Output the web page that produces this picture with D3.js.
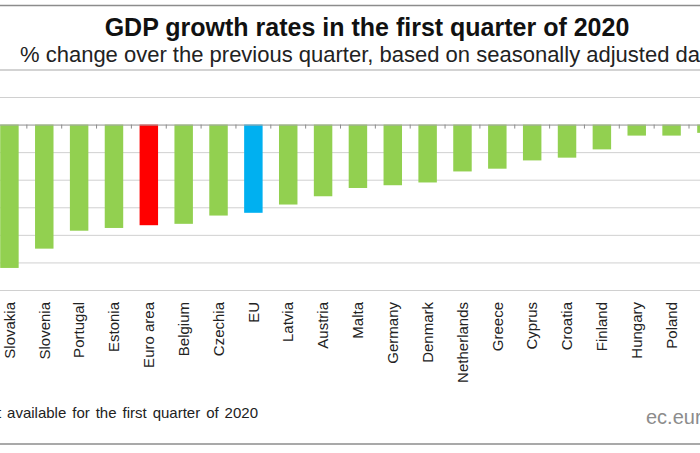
<!DOCTYPE html>
<html>
<head>
<meta charset="utf-8">
<script src="https://cdn.jsdelivr.net/npm/d3@7"></script>
<style>
  html, body { margin: 0; padding: 0; background: #fff; overflow: hidden; }
  svg { display: block; }
  text { font-family: "Liberation Sans", Arial, sans-serif; }
</style>
</head>
<body>
<svg id="chart"></svg>
<script>
// values, % change over the previous quarter
const countries = ["Slovakia", "Slovenia", "Portugal", "Estonia", "Euro area", "Belgium", "Czechia", "EU",
  "Latvia", "Austria", "Malta", "Germany", "Denmark", "Netherlands", "Greece", "Cyprus", "Croatia",
  "Finland", "Hungary", "Poland", "Lithuania"];
const growth = [-5.2, -4.5, -3.85, -3.75, -3.65, -3.6, -3.3, -3.2, -2.9, -2.6, -2.3, -2.2, -2.1, -1.7, -1.6,
  -1.3, -1.2, -0.9, -0.4, -0.4, -0.3];
const yTicks = [1, 0, -1, -2, -3, -4, -5, -6];

const svgWidth = 700, svgHeight = 453;
const green = "#92d050", euroRed = "#ff0000", euBlue = "#00b0f0";

const svg = d3.select("#chart")
    .attr("width", svgWidth)
    .attr("height", svgHeight);

// the source image is cropped, so the band range runs past the frame on the right
const x = d3.scaleBand()
    .domain(countries)
    .range([-8, -8 + countries.length * 34.85])
    .paddingInner(0.47)
    .paddingOuter(0.235);

const y = d3.scaleLinear()
    .domain([-6, 1])
    .range([290, 97]);

// frame rules
svg.selectAll("line.rule")
    .data([[5.5, "#8c8c8c", 1.5], [70, "#c4c4c4", 1.5], [444, "#8c8c8c", 1.5]])
  .enter().append("line")
    .attr("class", "rule")
    .attr("x1", 0)
    .attr("x2", svgWidth)
    .attr("y1", d => d[0])
    .attr("y2", d => d[0])
    .attr("stroke", d => d[1])
    .attr("stroke-width", d => d[2]);

// gridlines
const grid = svg.append("g")
    .call(d3.axisRight(y).tickValues(yTicks).tickSize(svgWidth).tickFormat(""));
grid.select(".domain").remove();
grid.selectAll("line").attr("stroke", "#d0d0d0").attr("stroke-width", 1);

// bars
svg.selectAll("rect.bar")
    .data(countries)
  .enter().append("rect")
    .attr("class", "bar")
    .attr("x", d => x(d))
    .attr("width", x.bandwidth())
    .attr("y", y(0))
    .attr("height", (d, i) => y(growth[i]) - y(0))
    .attr("fill", d => d === "Euro area" ? euroRed : d === "EU" ? euBlue : green);

// zero line with ticks between the bars
const xAxis = svg.append("g")
    .attr("transform", "translate(0," + y(0) + ")")
    .call(d3.axisBottom(x).tickSize(0));
xAxis.select(".domain").attr("stroke", "#a6a6a6").attr("stroke-width", 1);
xAxis.selectAll(".tick").append("line")
    .attr("x1", x.step() / 2)
    .attr("x2", x.step() / 2)
    .attr("y2", 4)
    .attr("stroke", "#8c8c8c");
xAxis.selectAll("text")
    .attr("transform", "translate(0," + (302 - y(0)) + ") rotate(-90)")
    .attr("x", 0)
    .attr("y", 0)
    .attr("dy", "0.35em")
    .attr("text-anchor", "end")
    .attr("font-size", 15)
    .attr("fill", "#222")
    .style("font-family", '"Liberation Sans", Arial, sans-serif');
// last label falls outside the crop
xAxis.selectAll("text").filter(d => d === "Lithuania").remove();

// titles
svg.append("text")
    .attr("x", 367)
    .attr("y", 36)
    .attr("text-anchor", "middle")
    .attr("font-size", 25)
    .attr("font-weight", "bold")
    .attr("fill", "#111")
    .text("GDP growth rates in the first quarter of 2020");

svg.append("text")
    .attr("x", 20)
    .attr("y", 62)
    .attr("font-size", 22)
    .attr("fill", "#222")
    .text("% change over the previous quarter, based on seasonally adjusted data");

// footnote and source
svg.append("text")
    .attr("x", 258)
    .attr("y", 418)
    .attr("text-anchor", "end")
    .attr("font-size", 15)
    .attr("word-spacing", 1.8)
    .attr("fill", "#222")
    .text("Data not available for the first quarter of 2020");

svg.append("text")
    .attr("x", 646)
    .attr("y", 424)
    .attr("font-size", 20)
    .attr("fill", "#8c8c8c")
    .text("ec.europa.eu/eurostat");
</script>
</body>
</html>
